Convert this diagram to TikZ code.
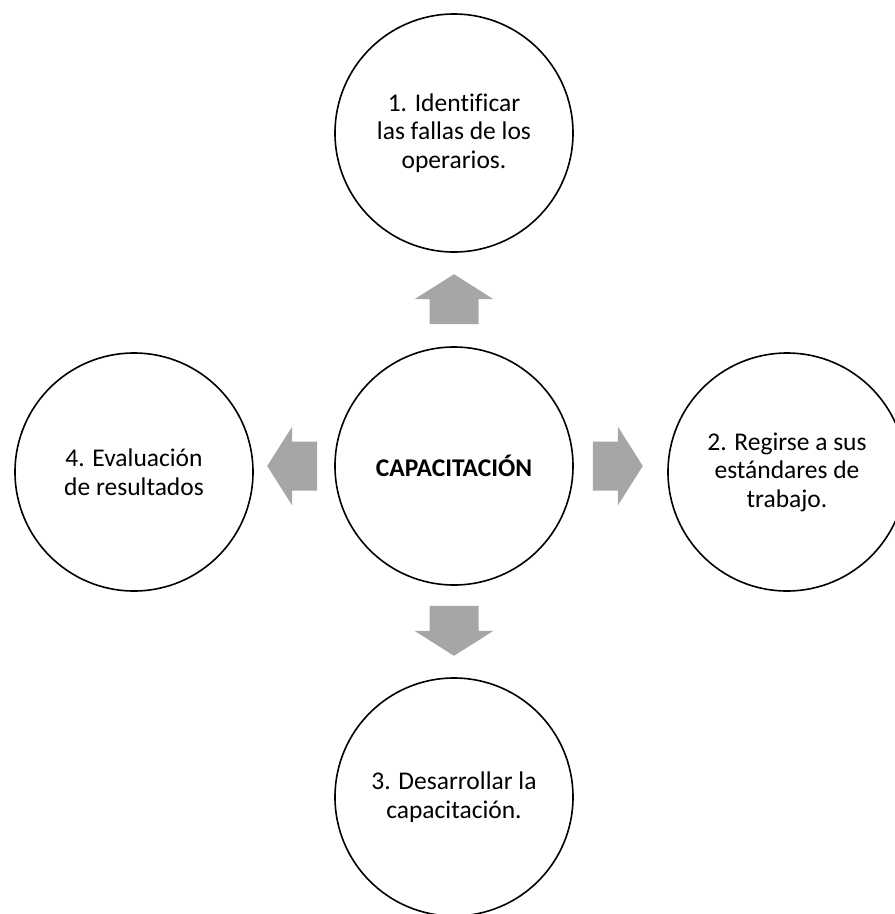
\documentclass[tikz,border=0pt]{standalone}
\usepackage{fontspec}
\setmainfont{Carlito}[Ligatures=NoCommon]
\usetikzlibrary{calc}
\definecolor{arrowgray}{HTML}{A6A6A6}
\tikzset{
  x=1pt, y=1pt,
  stage/.style={circle, draw=black, line width=1.6pt, fill=white,
    minimum size=238pt, inner sep=0pt, align=center,
    font=\fontsize{25.5}{28.5}\selectfont},
  pics/blockarrow/.style={code={
    \fill[arrowgray] (0,-24.5) -- (25,-24.5) -- (25,-39.5) -- (50,0)
      -- (25,39.5) -- (25,24.5) -- (0,24.5) -- cycle;
  }}
}
\begin{document}
\begin{tikzpicture}
  \useasboundingbox (0,0) rectangle (895,-914);
  \clip (0,0) rectangle (895,-914);

  % hub and the four stages around it
  \node[stage] (hub)   at (454,-466) {\textbf{CAPACITACIÓN}};
  \node[stage] (s1)    at (454,-133) {1. Identificar\\las fallas de los\\operarios.};
  \node[stage] (s2)    at (787,-472) {2. Regirse a sus\\estándares de\\trabajo.};
  \node[stage] (s3)    at (454,-797) {3. Desarrollar la\\capacitación.};
  \node[stage] (s4)    at (134,-472) {4. Evaluación\\de resultados};

  % block arrows pointing from the hub to each stage
  \pic[rotate=90]  at ($(hub.north)+(0,22)$)  {blockarrow};
  \pic[rotate=0]   at ($(hub.east)+(19,0)$)   {blockarrow};
  \pic[rotate=-90] at ($(hub.south)+(0,-20)$) {blockarrow};
  \pic[rotate=180] at ($(hub.west)+(-17,0)$)  {blockarrow};
\end{tikzpicture}
\end{document}
